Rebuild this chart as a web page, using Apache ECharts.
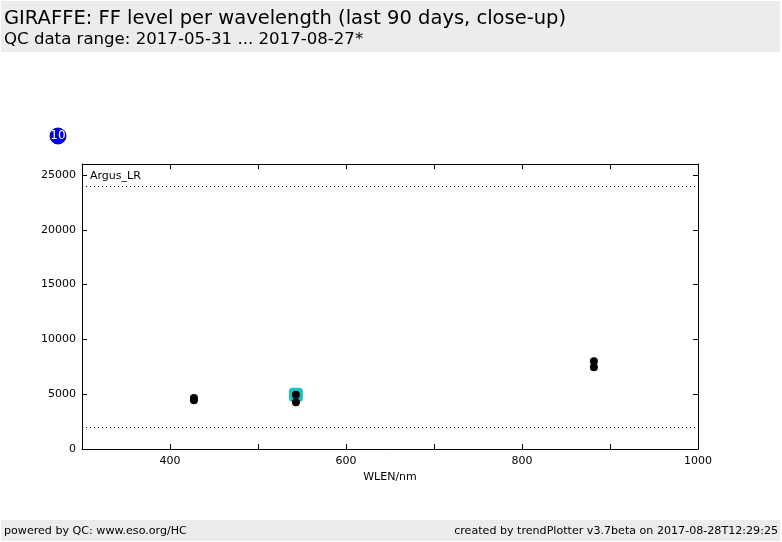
<!DOCTYPE html>
<html><head><meta charset="utf-8">
<script src="https://cdn.jsdelivr.net/npm/echarts@6/dist/echarts.min.js"></script>
<style>html,body{margin:0;padding:0;background:#fff}#c{width:782px;height:542px}</style>
</head><body><div id="c"></div>
<script>
var wavelengths = [427.2, 427.2, 543.1, 543.1, 881.7, 881.7];
var ffLevels = [4650, 4450, 4950, 4270, 8000, 7450];
var lastWavelength = [543.1];
var lastLevel = [4950];
var thresholds = [24000, 2000];
var xTicks = [400, 600, 800, 1000];

var pts = wavelengths.map(function(w,i){return [w, ffLevels[i]];});
var lastPts = lastWavelength.map(function(w,i){return [w, lastLevel[i]];});
var F = 'DejaVu Sans';
var chart = echarts.init(document.getElementById('c'), null, {renderer:'canvas'});
var axLine = {show:true, onZero:false, lineStyle:{color:'#000', width:1}};
var tick = {show:true, inside:true, length:5, lineStyle:{color:'#000'}};
chart.setOption({
  animation:false,
  backgroundColor:'#fff',
  grid:{left:82, right:84, top:164, bottom:93, containLabel:false},
  xAxis:[{
    type:'value', min:300, max:1000, interval:100, position:'bottom',
    name:'WLEN/nm', nameLocation:'middle', nameGap:22,
    nameTextStyle:{fontFamily:F, fontSize:11, color:'#000'},
    axisLine:axLine, axisTick:tick, splitLine:{show:false},
    axisLabel:{fontFamily:F, fontSize:11, color:'#000', margin:7,
      formatter:function(v){return xTicks.indexOf(v)>=0 ? String(v) : '';}}
  },{
    type:'value', min:300, max:1000, interval:100, position:'top',
    axisLine:axLine, axisTick:tick, axisLabel:{show:false}, splitLine:{show:false}
  }],
  yAxis:[{
    type:'value', min:0, max:26000, interval:5000, position:'left',
    axisLine:axLine, axisTick:tick, splitLine:{show:false},
    axisLabel:{fontFamily:F, fontSize:11, color:'#000', margin:6, showMaxLabel:false,
      formatter:function(v){return v%5000===0 ? String(v) : '';}}
  },{
    type:'value', min:0, max:26000, interval:5000, position:'right',
    axisLine:axLine, axisTick:tick, axisLabel:{show:false}, splitLine:{show:false}
  }],
  series:[{
    type:'scatter', data:lastPts, symbol:'roundRect', symbolSize:14,
    itemStyle:{color:'#1fc0c6', opacity:1}, z:2,
    markLine:{silent:true, symbol:'none', label:{show:false},
      lineStyle:{color:'#000', type:[1,3], width:1, opacity:1},
      data:thresholds.map(function(t){return {yAxis:t};})}
  },{
    type:'scatter', data:pts, symbol:'circle', symbolSize:8,
    itemStyle:{color:'#000', opacity:1}, z:3
  }],
  graphic:[
    {type:'rect', shape:{x:1,y:1,width:779,height:51}, style:{fill:'#ececec'}, z:-1},
    {type:'text', left:4, top:9, style:{text:'GIRAFFE: FF level per wavelength (last 90 days, close-up)', font:'19.5px "DejaVu Sans"', fill:'#000'}},
    {type:'text', left:4, top:31, style:{text:'QC data range: 2017-05-31 ... 2017-08-27*', font:'16.6px "DejaVu Sans"', fill:'#000'}},
    {type:'rect', shape:{x:1,y:520,width:779,height:21}, style:{fill:'#ececec'}, z:-1},
    {type:'text', left:4, top:526, style:{text:'powered by QC: www.eso.org/HC', font:'11.1px "DejaVu Sans"', fill:'#000'}},
    {type:'text', right:4, top:526, style:{text:'created by trendPlotter v3.7beta on 2017-08-28T12:29:25', font:'11.1px "DejaVu Sans"', fill:'#000'}},
    {type:'circle', shape:{cx:58, cy:136, r:8}, style:{fill:'#0000ee', stroke:'#00008a', lineWidth:1}},
    {type:'text', x:58, y:136, style:{text:'10', font:'12px "DejaVu Sans"', fill:'#fff', align:'center', verticalAlign:'middle'}},
    {type:'text', left:90, top:171, style:{text:'Argus_LR', font:'11px "DejaVu Sans"', fill:'#000'}}
  ]
});
</script></body></html>
